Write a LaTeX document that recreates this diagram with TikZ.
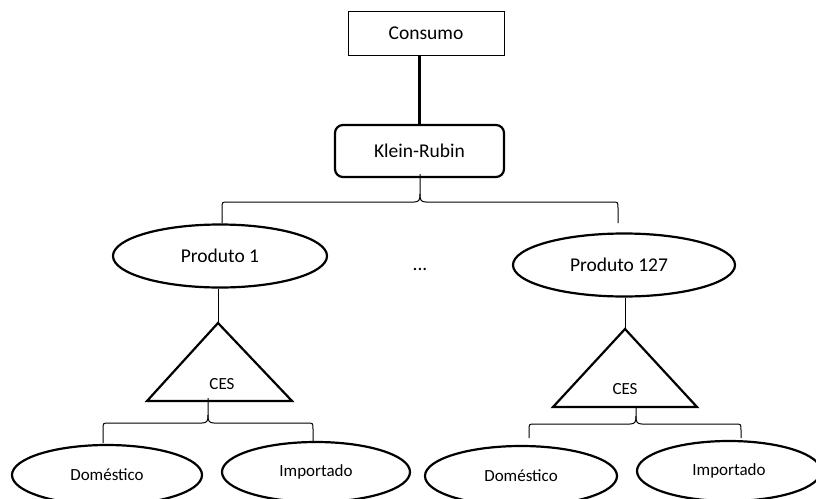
\documentclass[tikz,border=0pt]{standalone}
\usepackage{fontspec}
\setmainfont{Carlito}
\usetikzlibrary{shapes.geometric}
\newcommand\drawbrace[6]{% L R T H E P
  \draw[bracel] (#1,#5) -- (#1,#4+6) .. controls (#1,#4) .. (#1+6,#4) -- (#3-6,#4)
     .. controls (#3-1,#4) and (#3,#4-2) .. (#3,#4-8) -- (#3,#6);
  \draw[bracel] (#2,#5) -- (#2,#4+6) .. controls (#2,#4) .. (#2-6,#4) -- (#3+6,#4)
     .. controls (#3+1,#4) and (#3,#4-2) .. (#3,#4-8);
}
\begin{document}
\begin{tikzpicture}[x=1pt,y=-1pt,
  big/.style={font=\fontsize{19.5}{23}\selectfont},
  small/.style={font=\fontsize{17}{20}\selectfont},
  thickline/.style={line width=2.2pt},
  thinline/.style={line width=1pt},
  bracel/.style={line width=1pt},
  ell/.style={ellipse,draw,thickline,inner sep=0pt},
  tri/.style={draw,thickline,line join=miter}]
\useasboundingbox (0,0) rectangle (816,498);
\clip (0,0) rectangle (816,498);
\fill[white] (0,0) rectangle (816,498);

\node[draw,thinline,big,minimum width=156pt,minimum height=44pt,inner sep=0pt] (consumo) at (426,33) {Consumo};
\node[draw,thickline,rounded corners=8pt,big,minimum width=169pt,minimum height=52pt,inner sep=0pt] (klein) at (419.5,151) {Klein-Rubin};
\draw[thickline] (klein.north) -- (klein.north |- consumo.south);

\node[ell,big,minimum width=214pt,minimum height=63pt] (p1) at (220,256) {Produto 1};
\node[ell,big,minimum width=222pt,minimum height=63pt] (p127) at (624,265) {\hspace*{-10pt}Produto 127};
\node[big,inner sep=0pt] (dots) at (420,269) {...};

\drawbrace{222}{618}{420}{202}{223}{174}

% triangles
\coordinate (t1apex) at (218,323);
\coordinate (t2apex) at (625,329);
\draw[tri] (t1apex) -- (147,401) -- (292,401) -- cycle;
\draw[tri] (t2apex) -- (553,407) -- (697,407) -- cycle;
\node[small] (ces1) at (222,384) {CES};
\node[small] (ces2) at (625,389) {CES};
\draw[thinline] (t1apex |- p1.south) -- (t1apex);
\draw[thinline] (t2apex |- p127.south) -- (t2apex);

\drawbrace{103}{313}{208}{423}{443}{398}
\drawbrace{529}{741}{636}{424}{438}{406}

\node[ell,small,minimum width=190pt,minimum height=60pt] (d1) at (107,475) {\raisebox{-2pt}{Doméstico}};
\node[ell,small,minimum width=188pt,minimum height=60pt] (i1) at (316,472) {Importado};
\node[ell,small,minimum width=192pt,minimum height=60pt] (d2) at (521,476) {\raisebox{-2pt}{Doméstico}};
\node[ell,small,minimum width=184pt,minimum height=60pt] (i2) at (729,471) {Importado};
\end{tikzpicture}
\end{document}
